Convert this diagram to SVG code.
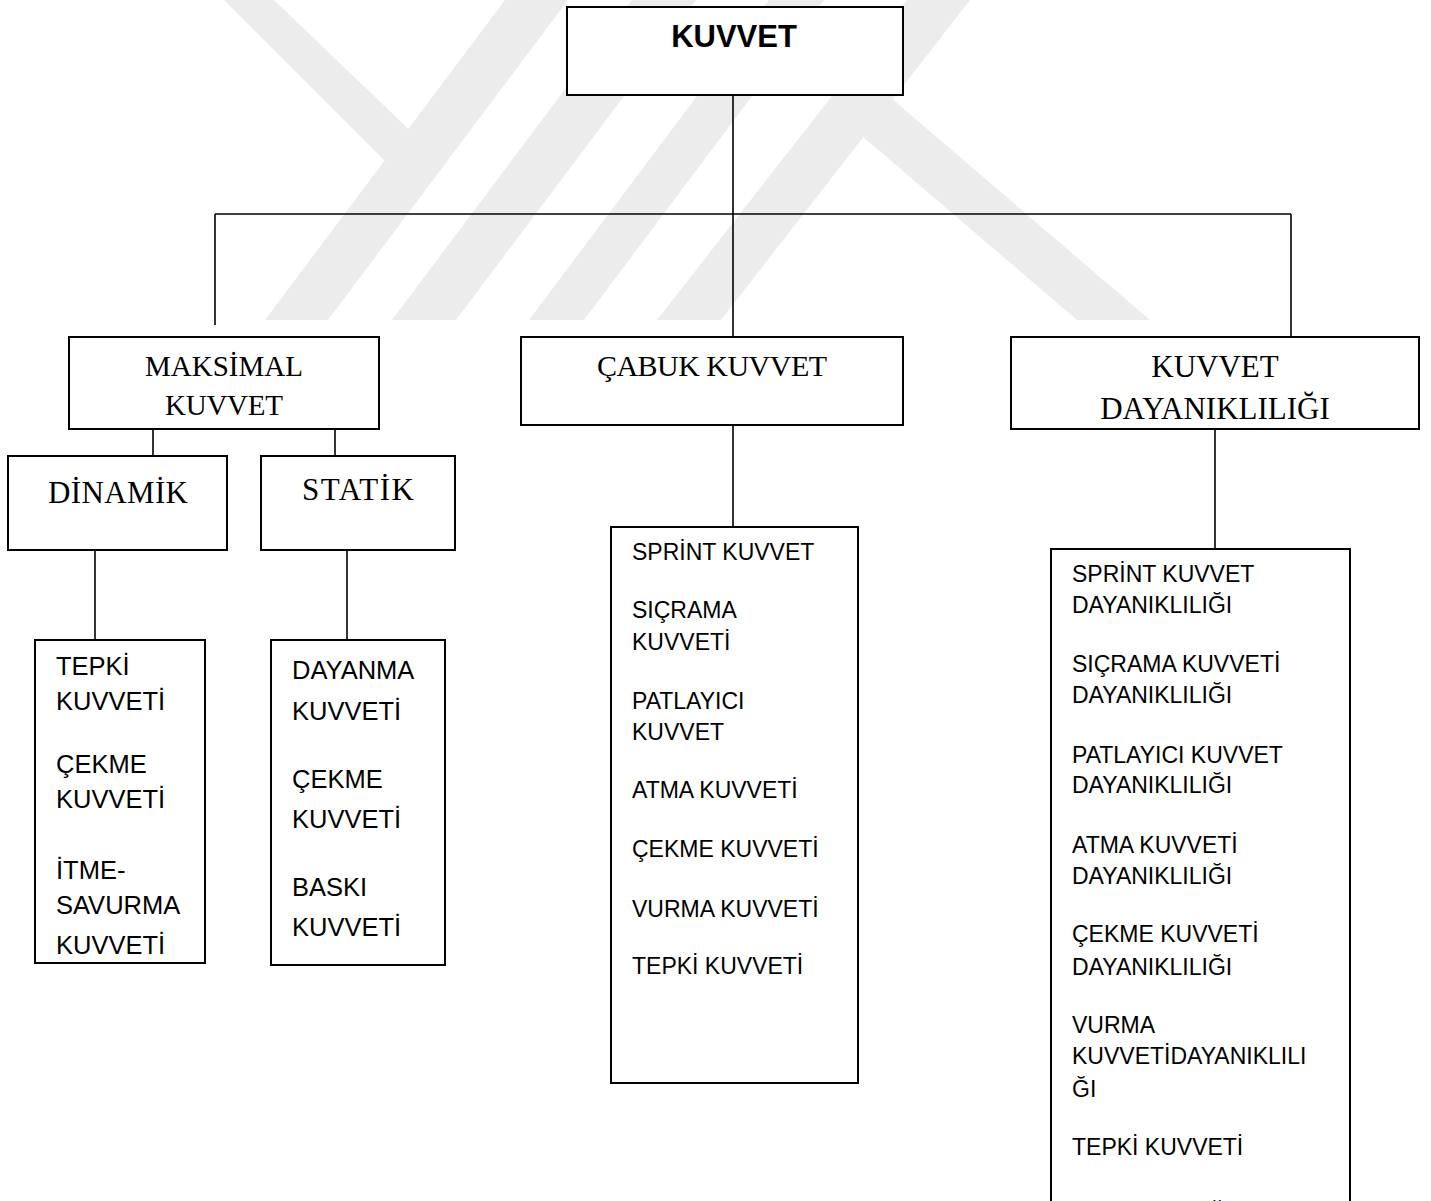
<svg xmlns="http://www.w3.org/2000/svg" width="1431" height="1201" viewBox="0 0 1431 1201">
<style>
.box{fill:#fff;stroke:#000;stroke-width:2}
.ln{stroke:#000;stroke-width:1.6;fill:none}
.wm{fill:#ececec}
.serif{font-family:"Liberation Serif","Times New Roman",serif;fill:#000}
.sans{font-family:"Liberation Sans",Arial,sans-serif;fill:#000}
.l1{font-size:23px}
.l2{font-size:25.5px}
</style>
<rect width="1431" height="1201" fill="#fff"/>
<g id="watermark">
<polygon class="wm" points="224,0 274,0 422,142 400,176"/>
<polygon class="wm" points="505,0 568,0 328,320 265,320"/>
<polygon class="wm" points="632,0 696,0 456,320 392,320"/>
<polygon class="wm" points="769,0 824,0 584,320 529,320"/>
<polygon class="wm" points="907,0 970,0 721,320 657,320"/>
<polygon class="wm" points="848,124 884,92 1150,320 1077,320"/>
</g>
<g id="connectors">
<line class="ln" x1="733" y1="95" x2="733" y2="337"/>
<line class="ln" x1="215" y1="214" x2="1291" y2="214"/>
<line class="ln" x1="215" y1="214" x2="215" y2="325"/>
<line class="ln" x1="1291" y1="214" x2="1291" y2="337"/>
<line class="ln" x1="153" y1="429" x2="153" y2="456"/>
<line class="ln" x1="335" y1="429" x2="335" y2="456"/>
<line class="ln" x1="95" y1="550" x2="95" y2="640"/>
<line class="ln" x1="347" y1="550" x2="347" y2="640"/>
<line class="ln" x1="733" y1="425" x2="733" y2="527"/>
<line class="ln" x1="1215" y1="429" x2="1215" y2="549"/>
</g>
<g id="kuvvet">
<rect class="box" x="567" y="7" width="336" height="88"/>
<text class="sans" x="734" y="47" font-size="31" font-weight="bold" text-anchor="middle">KUVVET</text>
</g>
<g id="maksimal">
<rect class="box" x="69" y="337" width="310" height="92"/>
<text class="serif" x="224" y="376" font-size="29" text-anchor="middle" textLength="158" lengthAdjust="spacing">MAKSİMAL</text>
<text class="serif" x="224" y="415" font-size="29" text-anchor="middle" textLength="118" lengthAdjust="spacing">KUVVET</text>
</g>
<g id="cabuk">
<rect class="box" x="521" y="337" width="382" height="88"/>
<text class="serif" x="597" y="376" font-size="30" textLength="230" lengthAdjust="spacing">ÇABUK KUVVET</text>
</g>
<g id="dayaniklilik">
<rect class="box" x="1011" y="337" width="408" height="92"/>
<text class="serif" x="1215" y="377" font-size="31" text-anchor="middle">KUVVET</text>
<text class="serif" x="1215" y="419" font-size="31" text-anchor="middle">DAYANIKLILIĞI</text>
</g>
<g id="dinamik">
<rect class="box" x="8" y="456" width="219" height="94"/>
<text class="serif" x="118" y="503" font-size="31" text-anchor="middle" textLength="140" lengthAdjust="spacing">DİNAMİK</text>
</g>
<g id="statik">
<rect class="box" x="261" y="456" width="194" height="94"/>
<text class="serif" x="358" y="500" font-size="31" text-anchor="middle" textLength="112" lengthAdjust="spacing">STATİK</text>
</g>
<g id="dinamik-list">
<rect class="box" x="35" y="640" width="170" height="323"/>
<g class="sans l2">
<text x="56" y="675">TEPKİ</text>
<text x="56" y="710">KUVVETİ</text>
<text x="56" y="773">ÇEKME</text>
<text x="56" y="808">KUVVETİ</text>
<text x="56" y="879">İTME-</text>
<text x="56" y="914">SAVURMA</text>
<text x="56" y="954">KUVVETİ</text>
</g>
</g>
<g id="statik-list">
<rect class="box" x="271" y="640" width="174" height="325"/>
<g class="sans l2">
<text x="292" y="679">DAYANMA</text>
<text x="292" y="720">KUVVETİ</text>
<text x="292" y="788">ÇEKME</text>
<text x="292" y="828">KUVVETİ</text>
<text x="292" y="896">BASKI</text>
<text x="292" y="936">KUVVETİ</text>
</g>
</g>
<g id="cabuk-list">
<rect class="box" x="611" y="527" width="247" height="556"/>
<g class="sans l1">
<text x="632" y="560">SPRİNT KUVVET</text>
<text x="632" y="618">SIÇRAMA</text>
<text x="632" y="650">KUVVETİ</text>
<text x="632" y="709">PATLAYICI</text>
<text x="632" y="740">KUVVET</text>
<text x="632" y="798">ATMA KUVVETİ</text>
<text x="632" y="857">ÇEKME KUVVETİ</text>
<text x="632" y="917">VURMA KUVVETİ</text>
<text x="632" y="974">TEPKİ KUVVETİ</text>
</g>
</g>
<g id="dayaniklilik-list">
<rect class="box" x="1051" y="549" width="299" height="680"/>
<g class="sans l1">
<text x="1072" y="582">SPRİNT KUVVET</text>
<text x="1072" y="613">DAYANIKLILIĞI</text>
<text x="1072" y="672">SIÇRAMA KUVVETİ</text>
<text x="1072" y="703">DAYANIKLILIĞI</text>
<text x="1072" y="763">PATLAYICI KUVVET</text>
<text x="1072" y="793">DAYANIKLILIĞI</text>
<text x="1072" y="853">ATMA KUVVETİ</text>
<text x="1072" y="884">DAYANIKLILIĞI</text>
<text x="1072" y="942">ÇEKME KUVVETİ</text>
<text x="1072" y="975">DAYANIKLILIĞI</text>
<text x="1072" y="1033">VURMA</text>
<text x="1072" y="1064">KUVVETİDAYANIKLILI</text>
<text x="1072" y="1097">ĞI</text>
<text x="1072" y="1155">TEPKİ KUVVETİ</text>
<text x="1072" y="1221">DAYANIKLILIĞI</text>
</g>
</g>
</svg>
